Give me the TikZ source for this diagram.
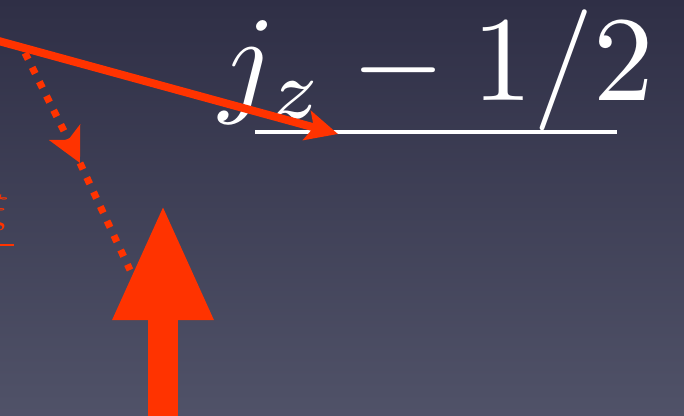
\documentclass[tikz,border=0pt]{standalone}
\usetikzlibrary{arrows.meta}
\definecolor{bgtop}{RGB}{47,47,70}
\definecolor{bgbot}{RGB}{80,82,104}
\definecolor{redarrow}{RGB}{255,51,0}
\tikzset{
  solidarrow/.style={draw=redarrow, line width=8pt, -{Stealth[length=32pt,width=30pt,inset=7pt]}},
  dotarrow/.style={draw=redarrow, line width=7pt, dash pattern=on 7pt off 9pt, -{Stealth[length=34pt,width=34pt,inset=8pt]}},
  dotline/.style={draw=redarrow, line width=7pt, dash pattern=on 7pt off 9pt},
  bigarrow/.style={draw=redarrow, line width=30pt, -{Triangle[length=117pt,width=92pt]}},
  label/.style={text=white, inner sep=0pt, anchor=base west},
}
\begin{document}
\begin{tikzpicture}[x=1pt,y=-1pt]
\useasboundingbox (0,0) rectangle (684,415);
\clip (0,0) rectangle (684,415);
\shade[top color=bgtop, bottom color=bgbot] (0,0) rectangle (684,415);
% coordinates
\coordinate (s0) at (-5,40);
\coordinate (s1) at (338,134);
\coordinate (d0) at (25,53);
\coordinate (d1) at (80,163);
\coordinate (d2) at (130,270);
\coordinate (b0) at (163,420);
\coordinate (b1) at (163,203);
% formula
\node[label] (formula) at (219,100) {\scalebox{12.1}{$j_z - 1/2$}};
\coordinate (u0) at (255,132);
\coordinate (u1) at (617,132);
\draw[white, line width=4pt] (u0) -- (u1);
% partial left symbol
\node[text=redarrow, inner sep=0pt, anchor=base east] (xi) at (9,222) {\scalebox{4}{$\xi$}};
\coordinate (x0) at (-5,245);
\coordinate (x1) at (14,245);
\draw[redarrow, line width=2pt] (x0) -- (x1);
% arrows
\draw[solidarrow] (s0) -- (s1);
\draw[dotline] (d1) -- (d2);
\draw[dotarrow] (d0) -- (d1);
\draw[bigarrow] (b0) -- (b1);
\end{tikzpicture}
\end{document}
